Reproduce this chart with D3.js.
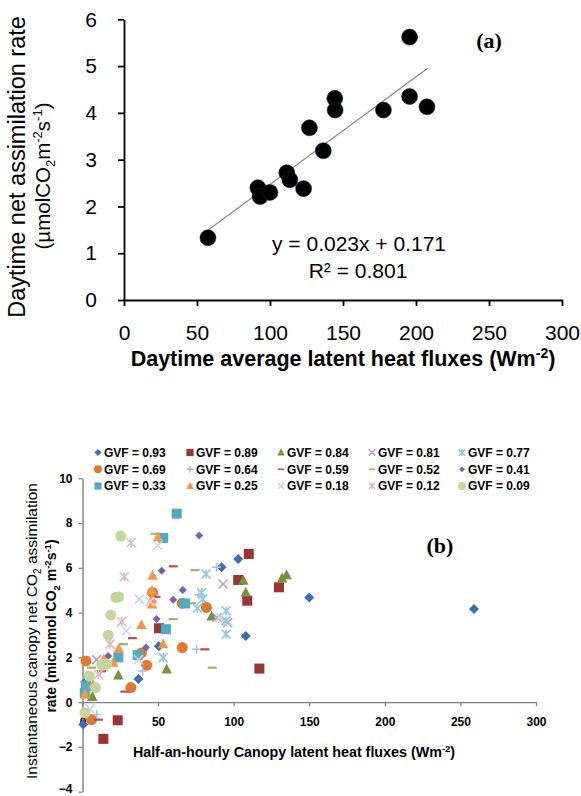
<!DOCTYPE html>
<html><head><meta charset="utf-8">
<script src="https://cdn.jsdelivr.net/npm/d3@7"></script>
<style>
body{margin:0;background:#fff}
svg{display:block}
text{font-family:"Liberation Sans",Arial,sans-serif}
</style>
</head><body>
<svg id="c" width="581" height="796"></svg>
<script>
// ---------- Panel (a) data ----------
const latentA = [57.5, 91.7, 93.2, 100, 111.5, 113.6, 123, 127, 136.5, 144.4, 144.6, 177.7, 195.6, 195.6, 207.5];
const assimA  = [1.33, 2.40, 2.21, 2.30, 2.72, 2.57, 2.38, 3.68, 3.19, 4.31, 4.06, 4.06, 5.62, 4.35, 4.13];
const xTicksA = [0, 50, 100, 150, 200, 250, 300];
const yTicksA = [0, 1, 2, 3, 4, 5, 6];
const fitSlope = 0.023, fitIntercept = 0.171;
const fitRange = [57, 208];
const eqLabel = "y = 0.023x + 0.171";
const r2Label = "R\u00B2 = 0.801";

// ---------- Panel (b) data ----------
const gvfLabels = ["0.93","0.89","0.84","0.81","0.77","0.69","0.64","0.59","0.52","0.41","0.33","0.25","0.18","0.12","0.09"];
const gvf093 = [[0.5,-1.0],[2,0.6],[37,1.03],[50.5,2.5],[92,6.03],[103,6.4],[108,2.96],[150,4.68],[259,4.16]];
const gvf089 = [[13.8,-1.64],[23.3,-0.81],[50.6,3.3],[103,5.46],[109,4.53],[110,6.62],[117,1.5],[130,5.13]];
const gvf084 = [[6.5,0.24],[23.7,1.2],[55.7,1.47],[85.4,3.83],[106.4,5.43],[108,4.9],[132,5.53],[135,5.68]];
const gvf081 = [[9.4,1.9],[89,3.78],[93,5.28],[96,3.55]];
const gvf077 = [[53.4,1.99],[76,4.2],[79.5,4.6],[78.8,4.9],[81.7,5.73],[95,4.08],[95,3.63],[95,3.04]];
const gvf069 = [[2.3,1.84],[6,-0.78],[32,0.65],[39,2.2],[42.5,1.65],[46.4,4.9],[66,2.44],[66,4.42],[82,4.23]];
const gvf064 = [[9.4,-0.55],[12,1.4],[39.8,1.39],[75.5,2.36],[77,4.8],[88.7,6.03]];
const gvf059 = [[10.5,-0.78],[12.7,1.38],[28,0.47],[33,2.86],[48.6,4.7],[60,6.07],[81,2.36]];
const gvf052 = [[6,1.54],[27,2.59],[48,7.52],[60,3.71],[72,4.42],[74.4,5.9],[85.8,1.54]];
const gvf041 = [[1,0.9],[17,2.06],[42,2.44],[49,3.71],[52.4,5.87],[60,4.57],[66.3,5.01],[77.2,7.44]];
const gvf033 = [[2.3,0.72],[1.5,0.4],[23.7,2.0],[36.5,2.1],[53.4,7.33],[55.2,3.26],[62.3,8.42],[67.8,4.41]];
const gvf025 = [[1.7,0.35],[7,0.79],[14,1.9],[20.4,1.77],[24,2.39],[39,3.45],[46,4.37],[46,4.6],[46,4.98],[46.4,5.65],[50,7.37],[53.4,2.59]];
const gvf018 = [[5,-0.3],[37,1.9],[29,3.18],[37.6,4.6],[44.6,4.5],[49.7,7.0],[90.9,3.8]];
const gvf012 = [[10.5,1.24],[14,1.6],[18.2,2.59],[25.9,3.6],[27.6,5.6],[32.1,7.12]];
const gvf009 = [[1.7,-0.47],[4.4,1.17],[8.6,0.65],[12.7,1.69],[16,1.7],[17.1,2.99],[18.7,3.89],[22,4.68],[24,4.7],[25.3,7.42]];
const xTicksB = [0, 50, 100, 150, 200, 250, 300];
const yTicksB = [-4, -2, 0, 2, 4, 6, 8, 10];

const seriesData = [gvf093,gvf089,gvf084,gvf081,gvf077,gvf069,gvf064,gvf059,gvf052,gvf041,gvf033,gvf025,gvf018,gvf012,gvf009];
const markerTypes = ["diamond","square","triangle","x","star","circle","plus","dash","dash","diamond","square","triangle","x","star","circle"];
const markerColors = ["#3C6EB4","#9B3432","#77933C","#B3A2C7","#8FC9DA","#E07A2B","#A7C0E2","#C0504D","#9BBB59","#7F5FA5","#4BACC6","#F79646","#C9D6EE","#E6B9B8","#C3D69B"];
const markerScale = [1,1,1,1,1,1,1,1,1,0.8,1,1,1,1,1];

const svg = d3.select("#c");
const fmt = d3.format("d");

// ================= Panel (a) =================
const xA = d3.scaleLinear().domain([0, 300]).range([124, 562]);
const yA = d3.scaleLinear().domain([0, 6]).range([300, 19.3]);
const gA = svg.append("g");

const axA_x = gA.append("g").attr("transform", `translate(0,${yA(0)})`)
  .call(d3.axisBottom(xA).tickValues(xTicksA).tickFormat(fmt).tickSize(6).tickPadding(19).tickSizeOuter(0));
const axA_y = gA.append("g").attr("transform", `translate(${xA(0)},0)`)
  .call(d3.axisLeft(yA).tickValues(yTicksA).tickFormat(fmt).tickSize(6).tickPadding(21).tickSizeOuter(0));
[axA_x, axA_y].forEach(ax => {
  ax.select(".domain").attr("stroke", "#000").attr("stroke-width", 1.8);
  ax.selectAll(".tick line").attr("stroke", "#000").attr("stroke-width", 1.8);
  ax.selectAll(".tick text").attr("fill", "#000").style("font-size", "21px")
    .style("font-family", '"Liberation Sans",Arial,sans-serif');
});

// trend line
gA.append("line")
  .attr("x1", xA(fitRange[0])).attr("y1", yA(fitIntercept + fitSlope * fitRange[0]))
  .attr("x2", xA(fitRange[1])).attr("y2", yA(fitIntercept + fitSlope * fitRange[1]))
  .attr("stroke", "#8a8a8a").attr("stroke-width", 1.2);

// points
gA.selectAll("circle.pt").data(latentA.map((d, i) => [d, assimA[i]])).enter()
  .append("circle").attr("class", "pt")
  .attr("cx", d => xA(d[0])).attr("cy", d => yA(d[1])).attr("r", 8)
  .attr("fill", "#000").attr("stroke", "#1a2a4a").attr("stroke-width", 0.6);

gA.append("text").attr("x", 359).attr("y", 251).attr("text-anchor", "middle")
  .style("font-size", "21px").text(eqLabel);
gA.append("text").attr("x", 358).attr("y", 278).attr("text-anchor", "middle")
  .style("font-size", "21px").text(r2Label);
gA.append("text").attr("x", 489).attr("y", 48).attr("text-anchor", "middle")
  .style("font-family", '"Liberation Serif","Times New Roman",serif').style("font-weight", "bold")
  .style("font-size", "22px").text("(a)");

// axis titles
const tA = gA.append("text").attr("x", 343).attr("y", 366).attr("text-anchor", "middle")
  .style("font-size", "21.5px").style("font-weight", "bold");
tA.append("tspan").text("Daytime average latent heat fluxes (Wm");
tA.append("tspan").attr("dy", -8).style("font-size", "14px").text("-2");
tA.append("tspan").attr("dy", 8).text(")");

const yTitA = gA.append("g").attr("transform", "translate(0,167) rotate(-90)");
yTitA.append("text").attr("x", 0).attr("y", 25).attr("text-anchor", "middle")
  .style("font-size", "23.5px").text("Daytime net assimilation rate");
const l2 = yTitA.append("text").attr("x", -9).attr("y", 50).attr("text-anchor", "middle")
  .style("font-size", "20.5px");
l2.append("tspan").text("(\u00B5molCO");
l2.append("tspan").attr("dy", 5).style("font-size", "13px").text("2");
l2.append("tspan").attr("dy", -5).text("m");
l2.append("tspan").attr("dy", -8).style("font-size", "13px").text("-2");
l2.append("tspan").attr("dy", 8).text("s");
l2.append("tspan").attr("dy", -8).style("font-size", "13px").text("-1");
l2.append("tspan").attr("dy", 8).text(")");

// ================= Panel (b) =================
const xB = d3.scaleLinear().domain([0, 300]).range([82.5, 536]);
const yB = d3.scaleLinear().domain([-4, 10]).range([791.7, 478.3]);
const gB = svg.append("g");

const axB_x = gB.append("g").attr("transform", `translate(0,${yB(0)})`)
  .call(d3.axisBottom(xB).tickValues(xTicksB).tickFormat(fmt).tickSize(4).tickPadding(11).tickSizeOuter(0));
const axB_y = gB.append("g").attr("transform", `translate(${xB(0)},0)`)
  .call(d3.axisLeft(yB).tickValues(yTicksB).tickFormat(fmt).tickSize(4).tickPadding(6).tickSizeOuter(0));
[axB_x, axB_y].forEach(ax => {
  ax.select(".domain").attr("stroke", "#7f7f7f").attr("stroke-width", 1.4);
  ax.selectAll(".tick line").attr("stroke", "#7f7f7f").attr("stroke-width", 1.2);
  ax.selectAll(".tick text").attr("fill", "#000").style("font-size", "12px").style("font-weight", "bold")
    .style("font-family", '"Liberation Sans",Arial,sans-serif');
});
// keep the lowest tick label inside the picture
axB_y.selectAll(".tick text").filter(d => d === -4).attr("dy", "0.05em");

function markerPath(type, s) {
  const p = d3.path();
  if (type === "diamond") { p.moveTo(0,-s); p.lineTo(s,0); p.lineTo(0,s); p.lineTo(-s,0); p.closePath(); }
  else if (type === "square") { p.rect(-s,-s,2*s,2*s); }
  else if (type === "triangle") { p.moveTo(0,-s*1.05); p.lineTo(s*0.95,s*0.75); p.lineTo(-s*0.95,s*0.75); p.closePath(); }
  else if (type === "circle") { p.arc(0,0,s,0,2*Math.PI); }
  else if (type === "dash") { p.rect(-s,-s*0.25,2*s,s*0.5); }
  else if (type === "x") { p.moveTo(-s,-s); p.lineTo(s,s); p.moveTo(s,-s); p.lineTo(-s,s); }
  else if (type === "plus") { p.moveTo(-s,0); p.lineTo(s,0); p.moveTo(0,-s); p.lineTo(0,s); }
  else if (type === "star") { p.moveTo(-s,-s); p.lineTo(s,s); p.moveTo(s,-s); p.lineTo(-s,s); p.moveTo(0,-s); p.lineTo(0,s); }
  return p.toString();
}
const filled = t => ["diamond","square","triangle","circle","dash"].includes(t);
function drawMarker(g, type, color, s) {
  const el = g.append("path").attr("d", markerPath(type, s));
  if (filled(type)) el.attr("fill", color).attr("stroke", "none");
  else el.attr("fill", "none").attr("stroke", color).attr("stroke-width", 1.6);
  return el;
}
const baseSize = {diamond:5, square:5, triangle:5.5, circle:5.5, dash:4.5, x:4.5, plus:4.5, star:4.5};

seriesData.forEach((pts, i) => {
  const t = markerTypes[i];
  const g = gB.append("g");
  pts.forEach(d => {
    drawMarker(g, t, markerColors[i], baseSize[t] * markerScale[i])
      .attr("transform", `translate(${xB(d[0])},${yB(d[1])})`);
  });
});

// legend
const legCols = [98, 190, 281, 372, 462];
const legRows = [452.5, 469.3, 486];
gvfLabels.forEach((lab, i) => {
  const cx = legCols[i % 5], cy = legRows[Math.floor(i / 5)];
  const t = markerTypes[i];
  const lg = gB.append("g").attr("transform", `translate(${cx},${cy})`);
  drawMarker(lg, t, markerColors[i], baseSize[t] * 0.72 * markerScale[i]);
  lg.append("text").attr("x", 6).attr("y", 4.3).style("font-size", "12px").style("font-weight", "bold")
    .text("GVF = " + lab);
});

gB.append("text").attr("x", 440).attr("y", 553).attr("text-anchor", "middle")
  .style("font-family", '"Liberation Serif","Times New Roman",serif').style("font-weight", "bold")
  .style("font-size", "22px").text("(b)");

const tB = gB.append("text").attr("x", 294).attr("y", 757).attr("text-anchor", "middle")
  .style("font-size", "14.3px").style("font-weight", "bold");
tB.append("tspan").text("Half-an-hourly Canopy  latent heat fluxes (Wm");
tB.append("tspan").attr("dy", -5).style("font-size", "9.5px").text("-2");
tB.append("tspan").attr("dy", 5).text(")");

const yTitB = gB.append("g").attr("transform", "translate(0,631) rotate(-90)");
const b1 = yTitB.append("text").attr("x", 0).attr("y", 37).attr("text-anchor", "middle")
  .style("font-size", "15.5px");
b1.append("tspan").text("Instantaneous canopy net CO");
b1.append("tspan").attr("dy", 4).style("font-size", "10px").text("2");
b1.append("tspan").attr("dy", -4).text(" assimilation");
const b2 = yTitB.append("text").attr("x", 5).attr("y", 56).attr("text-anchor", "middle")
  .style("font-size", "14px").style("font-weight", "bold");
b2.append("tspan").text("rate (micromol CO");
b2.append("tspan").attr("dy", 4).style("font-size", "9.5px").text("2");
b2.append("tspan").attr("dy", -4).text(" m");
b2.append("tspan").attr("dy", -5).style("font-size", "9.5px").text("-2");
b2.append("tspan").attr("dy", 5).text("s");
b2.append("tspan").attr("dy", -5).style("font-size", "9.5px").text("-1");
b2.append("tspan").attr("dy", 5).text(")");
</script>
</body></html>
